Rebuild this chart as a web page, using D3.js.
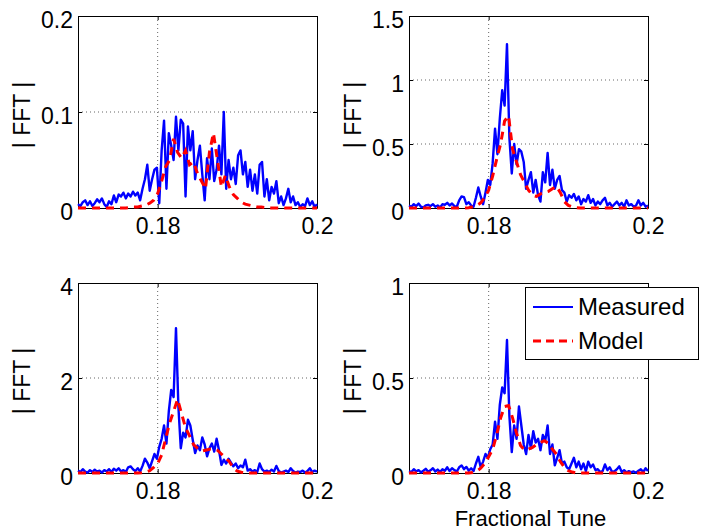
<!DOCTYPE html>
<html>
<head>
<meta charset="utf-8">
<script src="https://cdn.jsdelivr.net/npm/d3@7"></script>
<style>
  body { margin: 0; background: #fff; }
  text { font-family: "Liberation Sans", Arial, Helvetica, sans-serif; }
</style>
</head>
<body>
<div id="chart"></div>
<script>
// fractional tune bins
var tuneStart = 0.17, tuneEnd = 0.2;
var measStep = 0.0003, modelStep = 0.0005;
var xTicks = [0.18, 0.2];

// panel 1 (top left)
var meas1 = [0.004,0.002,0.006,0.008,0.003,0.007,0.002,0.005,0.009,0.006,
  0.010,0.004,0.001,0.007,0.004,0.013,0.006,0.014,0.012,0.016,
  0.010,0.015,0.012,0.017,0.013,0.016,0.008,0.020,0.030,0.045,
  0.018,0.030,0.040,0.042,0.005,0.060,0.091,0.020,0.078,0.065,
  0.050,0.095,0.060,0.092,0.088,0.012,0.085,0.060,0.080,0.030,
  0.050,0.065,0.035,0.008,0.052,0.030,0.062,0.028,0.040,0.065,
  0.035,0.100,0.020,0.050,0.030,0.042,0.025,0.055,0.060,0.035,
  0.048,0.022,0.040,0.018,0.035,0.015,0.045,0.048,0.012,0.030,
  0.008,0.022,0.015,0.028,0.005,0.012,0.003,0.010,0.020,0.006,
  0.012,0.003,0.006,0.001,0.004,0.002,0.010,0.003,0.007,0.001,0.004];
var model1 = [0,0,0,0,0,0,0,0,0,0,
  0,0,0,0.0005,0.001,0.001,0.002,0.003,0.005,0.008,
  0.015,0.028,0.043,0.050,0.072,0.058,0.052,0.060,0.045,0.048,
  0.036,0.028,0.020,0.058,0.078,0.050,0.022,0.034,0.022,0.014,
  0.010,0.006,0.004,0.003,0.002,0.001,0.001,0.0005,0,0,
  0,0,0,0,0,0,0,0,0,0,0];
var yTicks1 = [0, 0.1, 0.2];

// panel 2 (top right)
var meas2 = [0.02,0.01,0.03,0.015,0.035,0.01,0.005,0.02,0.025,0.015,
  0.03,0.01,0.02,0.005,0.03,0.025,0.04,0.02,0.035,0.015,
  0.01,0.06,0.09,0.085,0.03,0.045,0.02,0.01,0.08,0.16,
  0.09,0.03,0.12,0.22,0.18,0.35,0.62,0.42,0.70,0.92,
  0.80,1.28,0.55,0.27,0.50,0.34,0.46,0.44,0.36,0.15,
  0.22,0.28,0.12,0.22,0.10,0.05,0.28,0.20,0.43,0.18,
  0.30,0.15,0.22,0.25,0.14,0.12,0.05,0.10,0.08,0.11,
  0.06,0.09,0.03,0.07,0.05,0.10,0.04,0.07,0.02,0.05,
  0.03,0.06,0.08,0.02,0.04,0.01,0.03,0.05,0.02,0.04,
  0.01,0.06,0.02,0.03,0.01,0.02,0.06,0.02,0.04,0.01,0.02];
var model2 = [0,0,0,0,0,0,0,0,0,0,
  0,0,0,0,0,0.002,0.01,0.02,0.04,0.08,
  0.14,0.25,0.38,0.50,0.68,0.72,0.46,0.36,0.26,0.20,
  0.14,0.10,0.09,0.11,0.12,0.13,0.15,0.17,0.12,0.05,
  0.02,0.008,0.003,0,0,0,0,0,0,0,
  0,0,0,0,0,0,0,0,0,0,0];
var yTicks2 = [0, 0.5, 1, 1.5];

// panel 3 (bottom left)
var meas3 = [0.05,0.02,0.08,0.03,0.01,0.06,0.02,0.07,0.03,0.05,
  0.01,0.06,0.03,0.08,0.02,0.09,0.05,0.10,0.03,0.06,
  0.02,0.12,0.14,0.08,0.04,0.10,0.03,0.15,0.30,0.22,
  0.10,0.25,0.40,0.30,0.55,0.72,1.00,0.62,1.30,1.75,
  1.60,3.05,1.40,0.52,0.85,0.75,1.12,1.00,0.70,0.42,
  0.58,0.48,0.75,0.60,0.35,0.52,0.62,0.45,0.72,0.48,
  0.17,0.28,0.20,0.30,0.22,0.14,0.20,0.10,0.16,0.12,
  0.28,0.05,0.08,0.03,0.06,0.02,0.20,0.08,0.03,0.05,
  0.02,0.07,0.03,0.15,0.04,0.01,0.03,0.05,0.02,0.10,
  0.04,0.01,0.03,0.02,0.05,0.01,0.04,0.10,0.02,0.05,0.03];
var model3 = [0,0,0,0,0,0,0,0,0,0,
  0,0,0,0,0,0,0.005,0.02,0.05,0.12,
  0.20,0.38,0.72,1.05,1.30,1.55,1.25,0.95,0.78,0.60,
  0.52,0.46,0.48,0.50,0.51,0.48,0.40,0.32,0.24,0.10,
  0.04,0.015,0.005,0,0,0,0,0,0,0,
  0,0,0,0,0,0,0,0,0,0,0];
var yTicks3 = [0, 2, 4];

// panel 4 (bottom right)
var meas4 = [0.010,0.005,0.020,0.008,0.015,0.003,0.012,0.022,0.006,0.014,
  0.025,0.008,0.018,0.005,0.020,0.012,0.030,0.010,0.025,0.015,
  0.008,0.030,0.040,0.020,0.032,0.012,0.025,0.010,0.050,0.085,
  0.030,0.060,0.100,0.080,0.125,0.150,0.270,0.180,0.360,0.450,
  0.420,0.700,0.300,0.110,0.250,0.180,0.350,0.250,0.150,0.100,
  0.200,0.130,0.220,0.160,0.180,0.120,0.200,0.170,0.250,0.100,
  0.150,0.040,0.080,0.120,0.050,0.060,0.030,0.020,0.050,0.080,
  0.030,0.060,0.020,0.050,0.010,0.060,0.030,0.045,0.015,0.020,
  0.005,0.010,0.045,0.015,0.030,0.005,0.010,0.020,0.035,0.005,
  0.015,0.003,0.010,0.004,0.008,0.002,0.012,0.020,0.005,0.025,0.010];
var model4 = [0,0,0,0,0,0,0,0,0,0,
  0,0,0,0,0,0,0.003,0.010,0.025,0.050,
  0.085,0.125,0.200,0.290,0.350,0.355,0.290,0.210,0.145,0.120,
  0.125,0.135,0.150,0.160,0.170,0.155,0.125,0.100,0.060,0.030,
  0.012,0.005,0,0,0,0,0,0,0,0,
  0,0,0,0,0,0,0,0,0,0,0];
var yTicks4 = [0, 0.5, 1];

var seriesNames = ["Measured", "Model"];

var width = 701, height = 530;
var fontSize = 23;

var svg = d3.select("#chart").append("svg")
  .attr("width", width)
  .attr("height", height);

var panels = [
  {meas: meas1, model: model1, ticks: yTicks1, left: 78, top: 16, bottom: 208},
  {meas: meas2, model: model2, ticks: yTicks2, left: 409, top: 16, bottom: 208},
  {meas: meas3, model: model3, ticks: yTicks3, left: 78, top: 283, bottom: 473},
  {meas: meas4, model: model4, ticks: yTicks4, left: 409, top: 283, bottom: 473}
];
var plotW = 239;

function fmt(d) { return String(d); }

panels.forEach(function(p, k) {
  var x = d3.scaleLinear().domain([tuneStart, tuneEnd]).range([p.left, p.left + plotW]);
  var yMax = p.ticks[p.ticks.length - 1];
  var y = d3.scaleLinear().domain([0, yMax]).range([p.bottom, p.top]);

  var g = svg.append("g");

  // dotted grid at interior ticks
  g.selectAll(".vgrid")
    .data(xTicks.filter(function(t) { return t < tuneEnd; }))
    .enter().append("line")
    .attr("x1", function(d) { return x(d); })
    .attr("x2", function(d) { return x(d); })
    .attr("y1", p.top).attr("y2", p.bottom)
    .attr("stroke", "#666").attr("stroke-width", 1)
    .attr("stroke-dasharray", "1,3");
  g.selectAll(".hgrid")
    .data(p.ticks.filter(function(t) { return t > 0 && t < yMax; }))
    .enter().append("line")
    .attr("x1", p.left).attr("x2", p.left + plotW)
    .attr("y1", function(d) { return y(d); })
    .attr("y2", function(d) { return y(d); })
    .attr("stroke", "#666").attr("stroke-width", 1)
    .attr("stroke-dasharray", "1,3");

  // axes (ticks inside, matlab style)
  var xb = g.append("g").attr("transform", "translate(0," + p.bottom + ")")
    .call(d3.axisBottom(x).tickValues(xTicks).tickSize(-4).tickSizeOuter(0).tickPadding(10).tickFormat(fmt));
  var xt = g.append("g").attr("transform", "translate(0," + p.top + ")")
    .call(d3.axisTop(x).tickValues(xTicks).tickSize(-4).tickSizeOuter(0).tickFormat(""));
  var yl = g.append("g").attr("transform", "translate(" + p.left + ",0)")
    .call(d3.axisLeft(y).tickValues(p.ticks).tickSize(-4).tickSizeOuter(0).tickPadding(5).tickFormat(fmt));
  var yr = g.append("g").attr("transform", "translate(" + (p.left + plotW) + ",0)")
    .call(d3.axisRight(y).tickValues(p.ticks).tickSize(-4).tickSizeOuter(0).tickFormat(""));

  [xb, xt, yl, yr].forEach(function(a) {
    a.selectAll("path,line").attr("stroke", "#000");
    a.selectAll("text").attr("font-size", fontSize).attr("fill", "#000")
      .style("font-family", "'Liberation Sans', Arial, sans-serif");
  });
  yl.selectAll("text").attr("dy", "0.48em");

  var line = d3.line()
    .x(function(d) { return x(d[0]); })
    .y(function(d) { return y(d[1]); });

  var measPts = p.meas.map(function(v, i) { return [tuneStart + i * measStep, v]; });
  var modelPts = p.model.map(function(v, i) { return [tuneStart + i * modelStep, v]; });

  g.append("path").datum(measPts)
    .attr("d", line)
    .attr("fill", "none")
    .attr("stroke", "#0000ff")
    .attr("stroke-width", 2.4)
    .attr("stroke-linejoin", "round");

  g.append("path").datum(modelPts)
    .attr("d", line)
    .attr("fill", "none")
    .attr("stroke", "#ff0000")
    .attr("stroke-width", 3)
    .attr("stroke-dasharray", "8,6");

  // y label
  var cy = (p.top + p.bottom) / 2 + 3;
  var cx = p.left - 56;
  g.append("text")
    .attr("transform", "translate(" + cx + "," + cy + ") rotate(-90)")
    .attr("text-anchor", "middle")
    .attr("dominant-baseline", "central")
    .attr("font-size", fontSize)
    .text("| FFT |");

  if (k === 3) {
    g.append("text")
      .attr("x", p.left + plotW / 2 + 2)
      .attr("y", 526)
      .attr("text-anchor", "middle")
      .attr("font-size", fontSize - 1)
      .text("Fractional Tune");

    // legend
    var lg = svg.append("g");
    lg.append("rect")
      .attr("x", 525.5).attr("y", 287.5)
      .attr("width", 173).attr("height", 72)
      .attr("fill", "#fff").attr("stroke", "#000").attr("stroke-width", 1);
    var rows = [307, 341];
    seriesNames.forEach(function(name, j) {
      lg.append("line")
        .attr("x1", 533).attr("x2", 573)
        .attr("y1", rows[j]).attr("y2", rows[j])
        .attr("stroke", j === 0 ? "#0000ff" : "#ff0000")
        .attr("stroke-width", j === 0 ? 2.2 : 3)
        .attr("stroke-dasharray", j === 0 ? null : "8,5");
      lg.append("text")
        .attr("x", 578).attr("y", rows[j] + 8)
        .attr("font-size", fontSize + 1)
        .text(name);
    });
  }
});
</script>
</body>
</html>
